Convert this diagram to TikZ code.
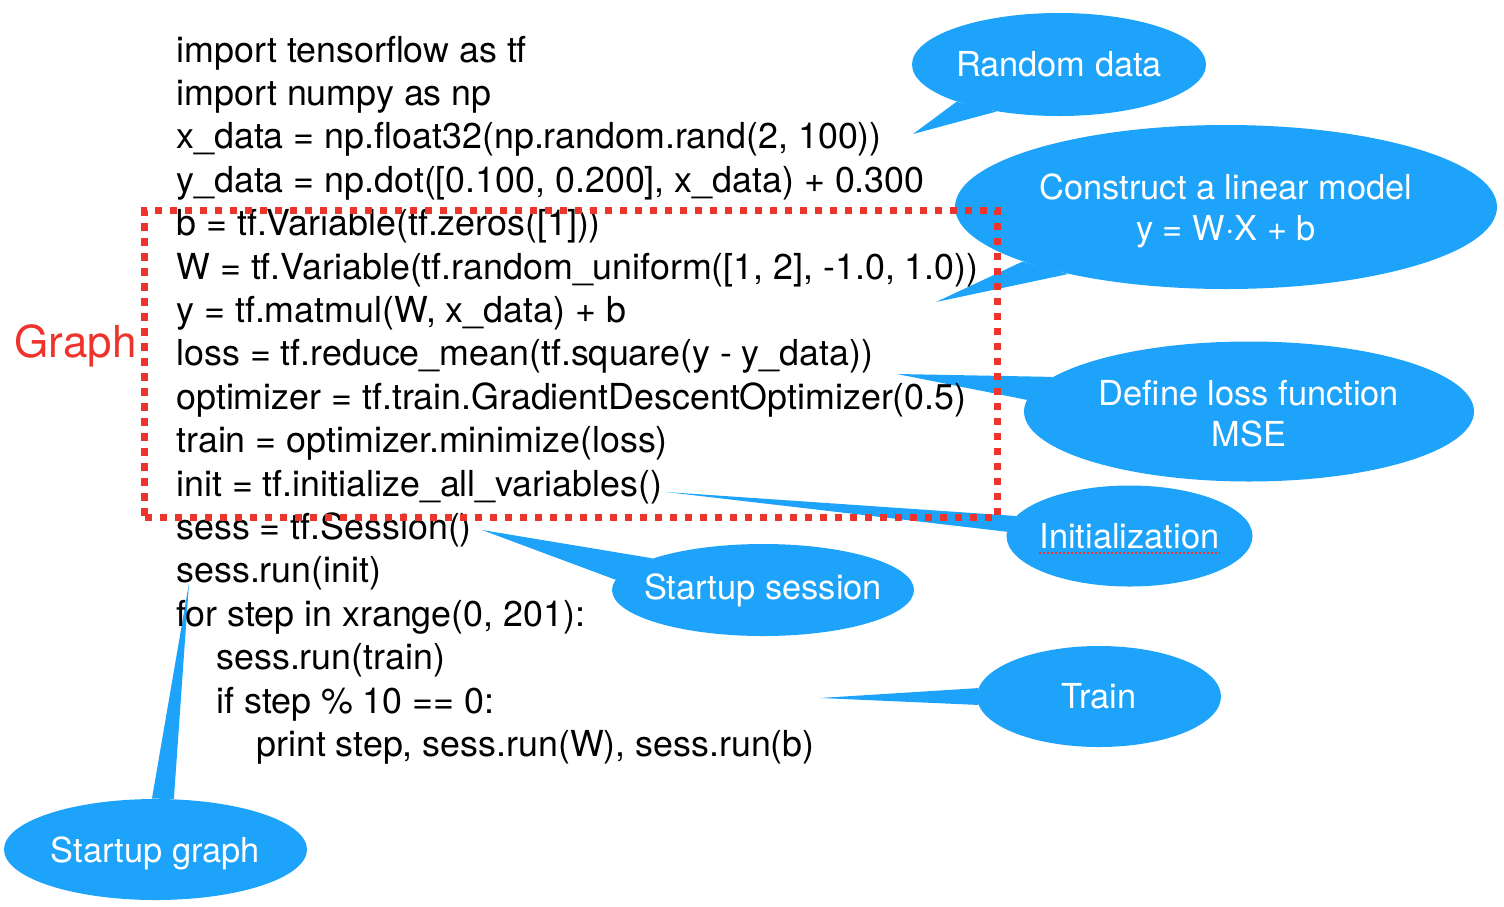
\documentclass[tikz,border=0pt]{standalone}
\usepackage{fontspec}
\setmainfont{TeX Gyre Heros}
\usepackage{tikz}
\usetikzlibrary{shapes.geometric}
\usepackage{xcolor}
\definecolor{BubbleBlue}{RGB}{30,163,250}
\definecolor{GraphRed}{RGB}{238,51,44}
\tikzset{%
  code/.style={%
    anchor=base west,%
    inner sep=0pt,%
    font={\fontsize{17.9}{21.7}\selectfont},%
  },
  bubble/.style={%
    ellipse,%
    fill=BubbleBlue,%
    inner sep=0pt,%
  },
  bubble_tail/.style={%
    fill=BubbleBlue,%
  },
  bubble_text/.style={%
    color=white,%
    align=center,%
    font={\fontsize{17.2}{20.5}\selectfont},%
  },
  graph_box/.style={%
    rectangle,%
    draw=GraphRed,%
    line width=3.5pt,%
    dash pattern=on 3.75pt off 3.75pt,%
    minimum width=426.5pt,%
    minimum height=153.25pt,%
    inner sep=0pt,%
  },
  graph_label/.style={%
    color=GraphRed,%
    anchor=base west,%
    inner sep=0pt,%
    font={\fontsize{22}{26}\selectfont},%
  },
  spell_mark/.style={%
    draw=GraphRed,%
    line width=1pt,%
    dash pattern=on 1pt off 1pt,%
  },
}

\begin{document}
\begin{tikzpicture}[x=0.5pt, y=-0.5pt]

    \useasboundingbox (0, 0) rectangle (1504, 906);

    % callouts
    \node [bubble, minimum width=147pt, minimum height=51.5pt] (RandomData) at (1059, 64.5) {};
    \node [bubble, minimum width=271pt, minimum height=82pt] (LinearModel) at (1226, 207) {};
    \node [bubble, minimum width=225pt, minimum height=70pt] (LossFunction) at (1249, 411.5) {};
    \node [bubble, minimum width=123pt, minimum height=50.5pt] (Initialization) at (1129.5, 536) {};
    \node [bubble, minimum width=151pt, minimum height=46pt] (StartupSession) at (763, 590) {};
    \node [bubble, minimum width=122pt, minimum height=50.5pt] (Train) at (1099, 696.5) {};
    \node [bubble, minimum width=151.5pt, minimum height=50.5pt] (StartupGraph) at (155.5, 849.5) {};

    \coordinate (random_tip) at (913, 134);
    \coordinate (linear_tip) at (936, 302);
    \coordinate (loss_tip) at (897, 374);
    \coordinate (init_tip) at (666, 492);
    \coordinate (session_tip) at (482, 530);
    \coordinate (train_tip) at (820, 698);
    \coordinate (graph_tip) at (189, 583);

    \fill [bubble_tail] (RandomData.200) -- (random_tip) -- (RandomData.217) -- cycle;
    \fill [bubble_tail] (LinearModel.195) -- (linear_tip) -- (LinearModel.203) -- cycle;
    \fill [bubble_tail] (LossFunction.170) -- (loss_tip) -- (LossFunction.177) -- cycle;
    \fill [bubble_tail] (Initialization.170) -- (init_tip) -- (Initialization.178.5) -- cycle;
    \fill [bubble_tail] (StartupSession.164) -- (session_tip) -- (StartupSession.176.5) -- cycle;
    \fill [bubble_tail] (Train.176.5) -- (train_tip) -- (Train.184.3) -- cycle;
    \fill [bubble_tail] (StartupGraph.94) -- (graph_tip) -- (StartupGraph.70) -- cycle;

    \node [bubble_text] (RandomDataText) at (RandomData) {Random data};
    \node [bubble_text, yshift=-2pt] (LinearModelText) at (LinearModel) {Construct a linear model\\y = W·X + b};
    \node [bubble_text, yshift=-1pt] (LossFunctionText) at (LossFunction) {Define loss function\\MSE};
    \node [bubble_text, inner sep=0pt] (InitializationText) at (Initialization) {Initialization};
    \node [bubble_text] (StartupSessionText) at (StartupSession) {Startup session};
    \node [bubble_text] (TrainText) at (Train) {Train};
    \node [bubble_text, yshift=-2pt] (StartupGraphText) at (StartupGraph) {Startup graph};

    \draw [spell_mark]
      ([yshift=-2pt]InitializationText.south west)
      --
      ([yshift=-2pt]InitializationText.south east);

    % code listing
    \node [code] (Line1) at (176, 62) {import tensorflow as tf};
    \node [code] (Line2) at (176, 105.4) {import numpy as np};
    \node [code] (Line3) at (176, 148.8) {x\_data = np.float32(np.random.rand(2, 100))};
    \node [code] (Line4) at (176, 192.2) {y\_data = np.dot([0.100, 0.200], x\_data) + 0.300};
    \node [code] (Line5) at (176, 235.6) {b = tf.Variable(tf.zeros([1]))};
    \node [code] (Line6) at (176, 279) {W = tf.Variable(tf.random\_uniform([1, 2], -1.0, 1.0))};
    \node [code] (Line7) at (176, 322.4) {y = tf.matmul(W, x\_data) + b};
    \node [code] (Line8) at (176, 365.8) {loss = tf.reduce\_mean(tf.square(y - y\_data))};
    \node [code] (Line9) at (176, 409.2) {optimizer = tf.train.GradientDescentOptimizer(0.5)};
    \node [code] (Line10) at (176, 452.6) {train = optimizer.minimize(loss)};
    \node [code] (Line11) at (176, 496) {init = tf.initialize\_all\_variables()};
    \node [code] (Line12) at (176, 539.4) {sess = tf.Session()};
    \node [code] (Line13) at (176, 582.8) {sess.run(init)};
    \node [code] (Line14) at (176, 626.2) {for step in xrange(0, 201):};
    \node [code] (Line15) at (216, 669.6) {sess.run(train)};
    \node [code] (Line16) at (216, 713) {if step \% 10 == 0:};
    \node [code] (Line17) at (256, 756.4) {print step, sess.run(W), sess.run(b)};

    % graph part
    \node [graph_label] (GraphLabel) at (14, 357) {Graph};
    \node [graph_box, anchor=north west] (GraphBox) at (141, 207) {};

\end{tikzpicture}
\end{document}
